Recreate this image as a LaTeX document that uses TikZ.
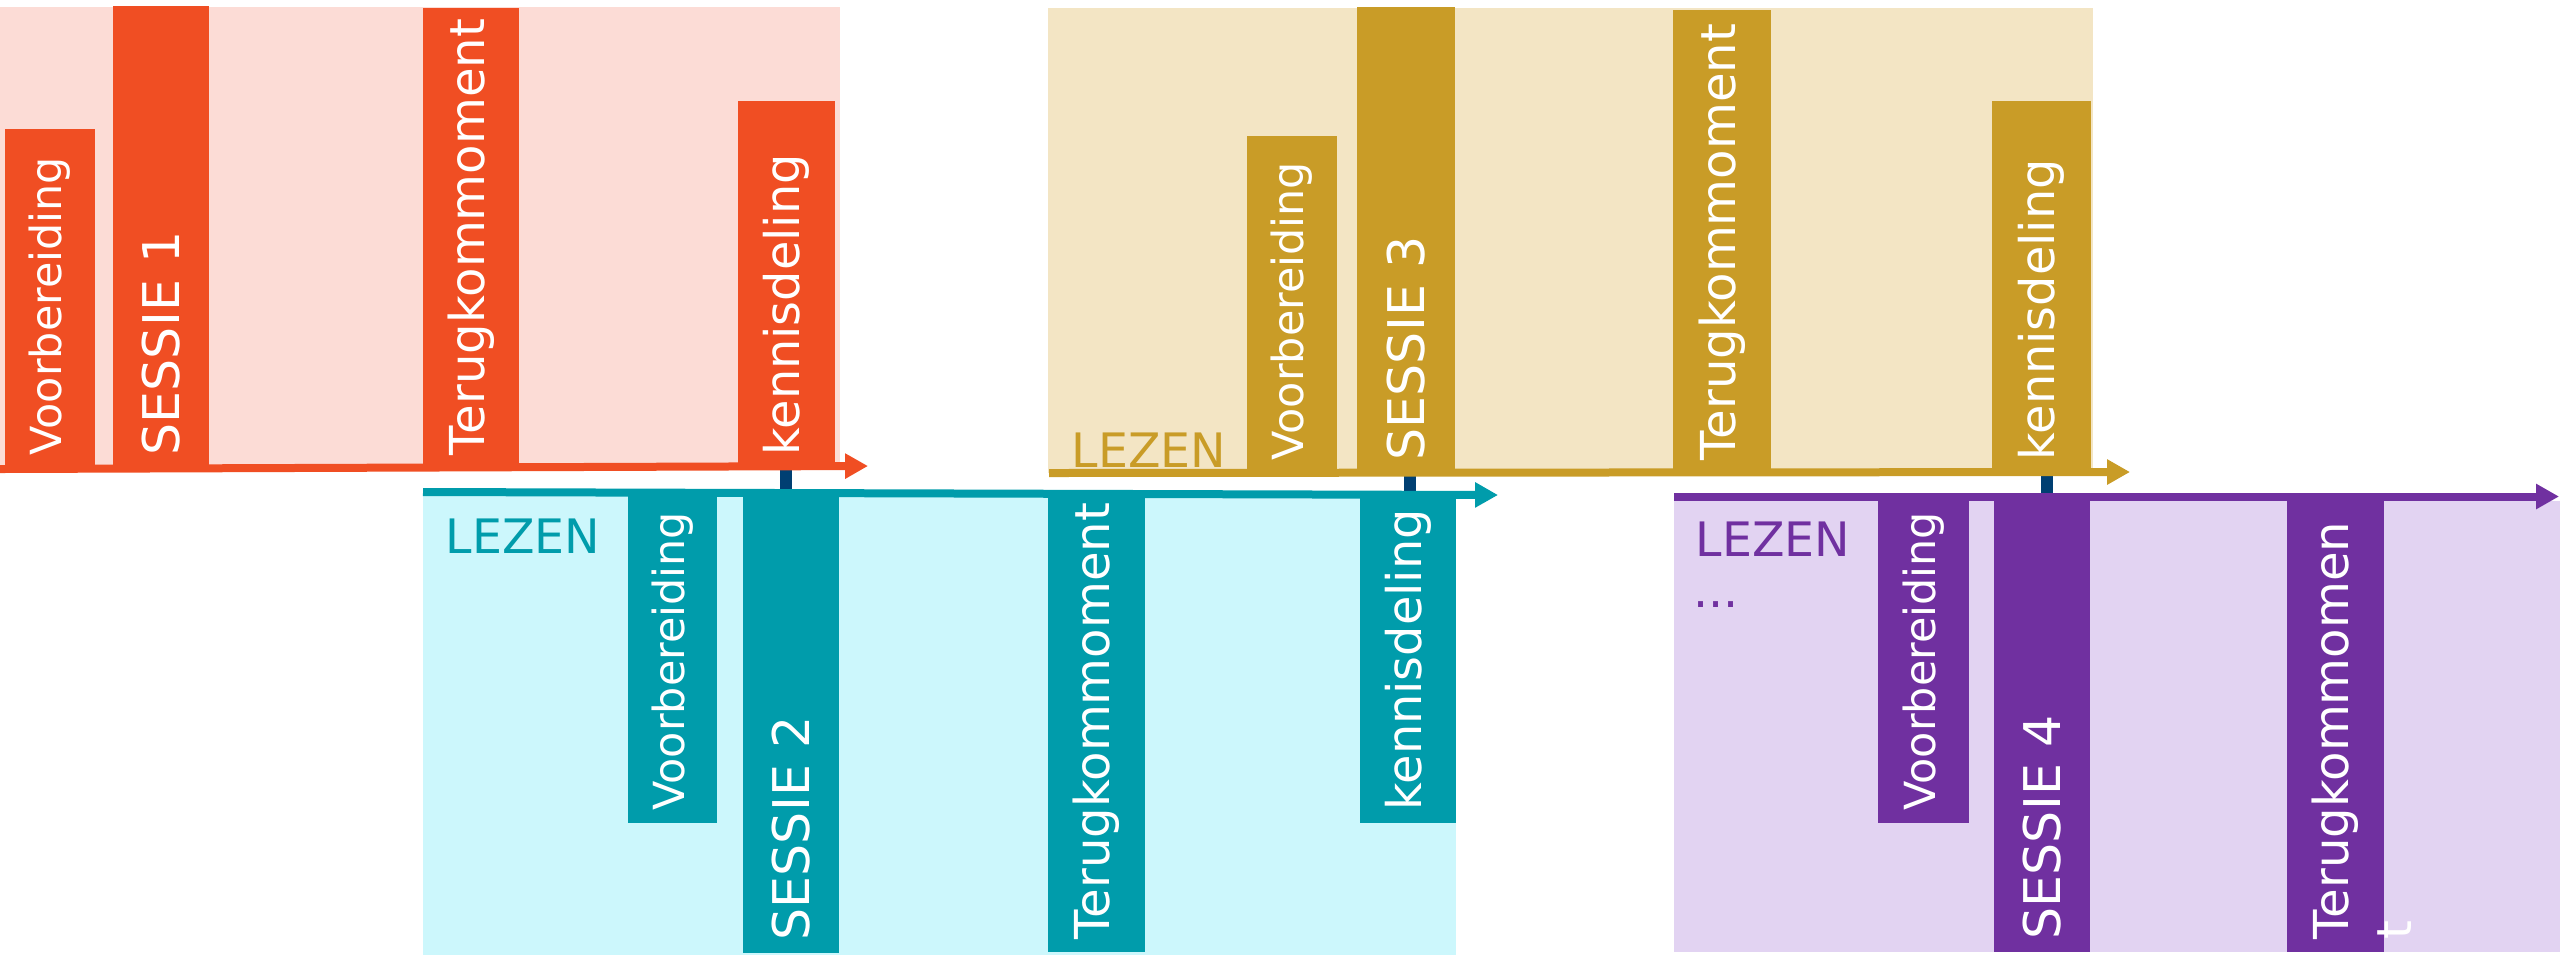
\documentclass[tikz,border=0pt]{standalone}
\usepackage{fontspec}
\setmainfont{DejaVu Sans}
\usetikzlibrary{arrows.meta}
\definecolor{cOr}{RGB}{240,78,35}
\definecolor{cOrBg}{RGB}{252,220,214}
\definecolor{cTe}{RGB}{0,156,171}
\definecolor{cTeBg}{RGB}{204,247,252}
\definecolor{cGo}{RGB}{201,156,39}
\definecolor{cGoBg}{RGB}{243,229,196}
\definecolor{cPu}{RGB}{112,48,160}
\definecolor{cPuBg}{RGB}{226,211,242}
\definecolor{cTick}{RGB}{0,63,114}
\tikzset{
  bartext/.style={rotate=90, anchor=west, inner sep=0pt, text=white},
  axisline/.style={line width=0.8mm, -{Triangle[length=6.5pt,width=6.8pt]}},
  tickline/.style={line width=1.2mm, cTick},
  lezen/.style={anchor=base west, inner sep=0pt, font=\fontsize{13.5pt}{16pt}\selectfont},
}
% name, x1, x2, ytop, ybottom, colour, font size, text
\newcommand\pbar[8]{%
  \fill[#6] (#2,#4) rectangle (#3,#5);
  \node[bartext, font=\fontsize{#7}{#7}\selectfont] (#1) at ({(#2+#3)/2},{#5-12}) {#8};
}
\begin{document}
\begin{tikzpicture}[x=0.1mm, y=-0.1mm]
\useasboundingbox (0,0) rectangle (2560,962);
% backgrounds
\fill[cOrBg] (0,7) rectangle (840,468);
\fill[cTeBg] (423,496) rectangle (1456,955);
\fill[cGoBg] (1048,8) rectangle (2093,473);
\fill[cPuBg] (1674,501) rectangle (2560,952);
% ticks
\coordinate (t1a) at (786,470); \coordinate (t1b) at (786,493);
\coordinate (t2a) at (1410,474); \coordinate (t2b) at (1410,494);
\coordinate (t3a) at (2047,473); \coordinate (t3b) at (2047,497);
\draw[tickline] (t1a) -- (t1b);
\draw[tickline] (t2a) -- (t2b);
\draw[tickline] (t3a) -- (t3b);
% group 1
\pbar{ov}{5}{95}{129}{468}{cOr}{12.2pt}{Voorbereiding}
\pbar{os}{113}{209}{6}{468}{cOr}{14.4pt}{SESSIE 1}
\pbar{ot}{423}{519}{8}{468}{cOr}{13.7pt}{Terugkommoment}
\pbar{ok}{738}{835}{101}{468}{cOr}{13.6pt}{kennisdeling}
% group 2
\pbar{tv}{628}{717}{496}{823}{cTe}{12.2pt}{Voorbereiding}
\pbar{ts}{743}{839}{496}{953}{cTe}{14.4pt}{SESSIE 2}
\pbar{tt}{1048}{1145}{496}{952}{cTe}{13.7pt}{Terugkommoment}
\pbar{tk}{1360}{1456}{496}{823}{cTe}{13.6pt}{kennisdeling}
% group 3
\pbar{gv}{1247}{1337}{136}{473}{cGo}{12.2pt}{Voorbereiding}
\pbar{gs}{1357}{1455}{7}{473}{cGo}{14.4pt}{SESSIE 3}
\pbar{gt}{1673}{1771}{10}{473}{cGo}{13.7pt}{Terugkommoment}
\pbar{gk}{1992}{2091}{101}{473}{cGo}{13.6pt}{kennisdeling}
% group 4
\pbar{pv}{1878}{1969}{501}{823}{cPu}{12.2pt}{Voorbereiding}
\pbar{ps}{1994}{2090}{501}{952}{cPu}{14.4pt}{SESSIE 4}
\pbar{ptk}{2287}{2384}{501}{952}{cPu}{13.7pt}{Terugkommomen}
\node[rotate=90, anchor=base west, inner sep=0pt, text=white, font=\fontsize{13.7pt}{16pt}\selectfont] (ptt) at (2411,940) {t};
% axes
\coordinate (a1s) at (0,469); \coordinate (a1e) at (868,466);
\coordinate (a2s) at (423,492); \coordinate (a2e) at (1498,495);
\coordinate (a3s) at (1049,473); \coordinate (a3e) at (2130,472);
\coordinate (a4s) at (1674,496.5); \coordinate (a4e) at (2559,496.5);
\draw[axisline, cOr] (a1s) -- (a1e);
\draw[axisline, cTe] (a2s) -- (a2e);
\draw[axisline, cGo] (a3s) -- (a3e);
\draw[axisline, cPu] (a4s) -- (a4e);
% LEZEN labels
\node[lezen, text=cTe] (lz2) at (445,553) {LEZEN};
\node[lezen, text=cGo] (lz3) at (1071,467) {LEZEN};
\node[lezen, text=cPu] (lz4) at (1695,556) {LEZEN};
\node[lezen, text=cPu] (dots) at (1693,607) {...};
\end{tikzpicture}
\end{document}
